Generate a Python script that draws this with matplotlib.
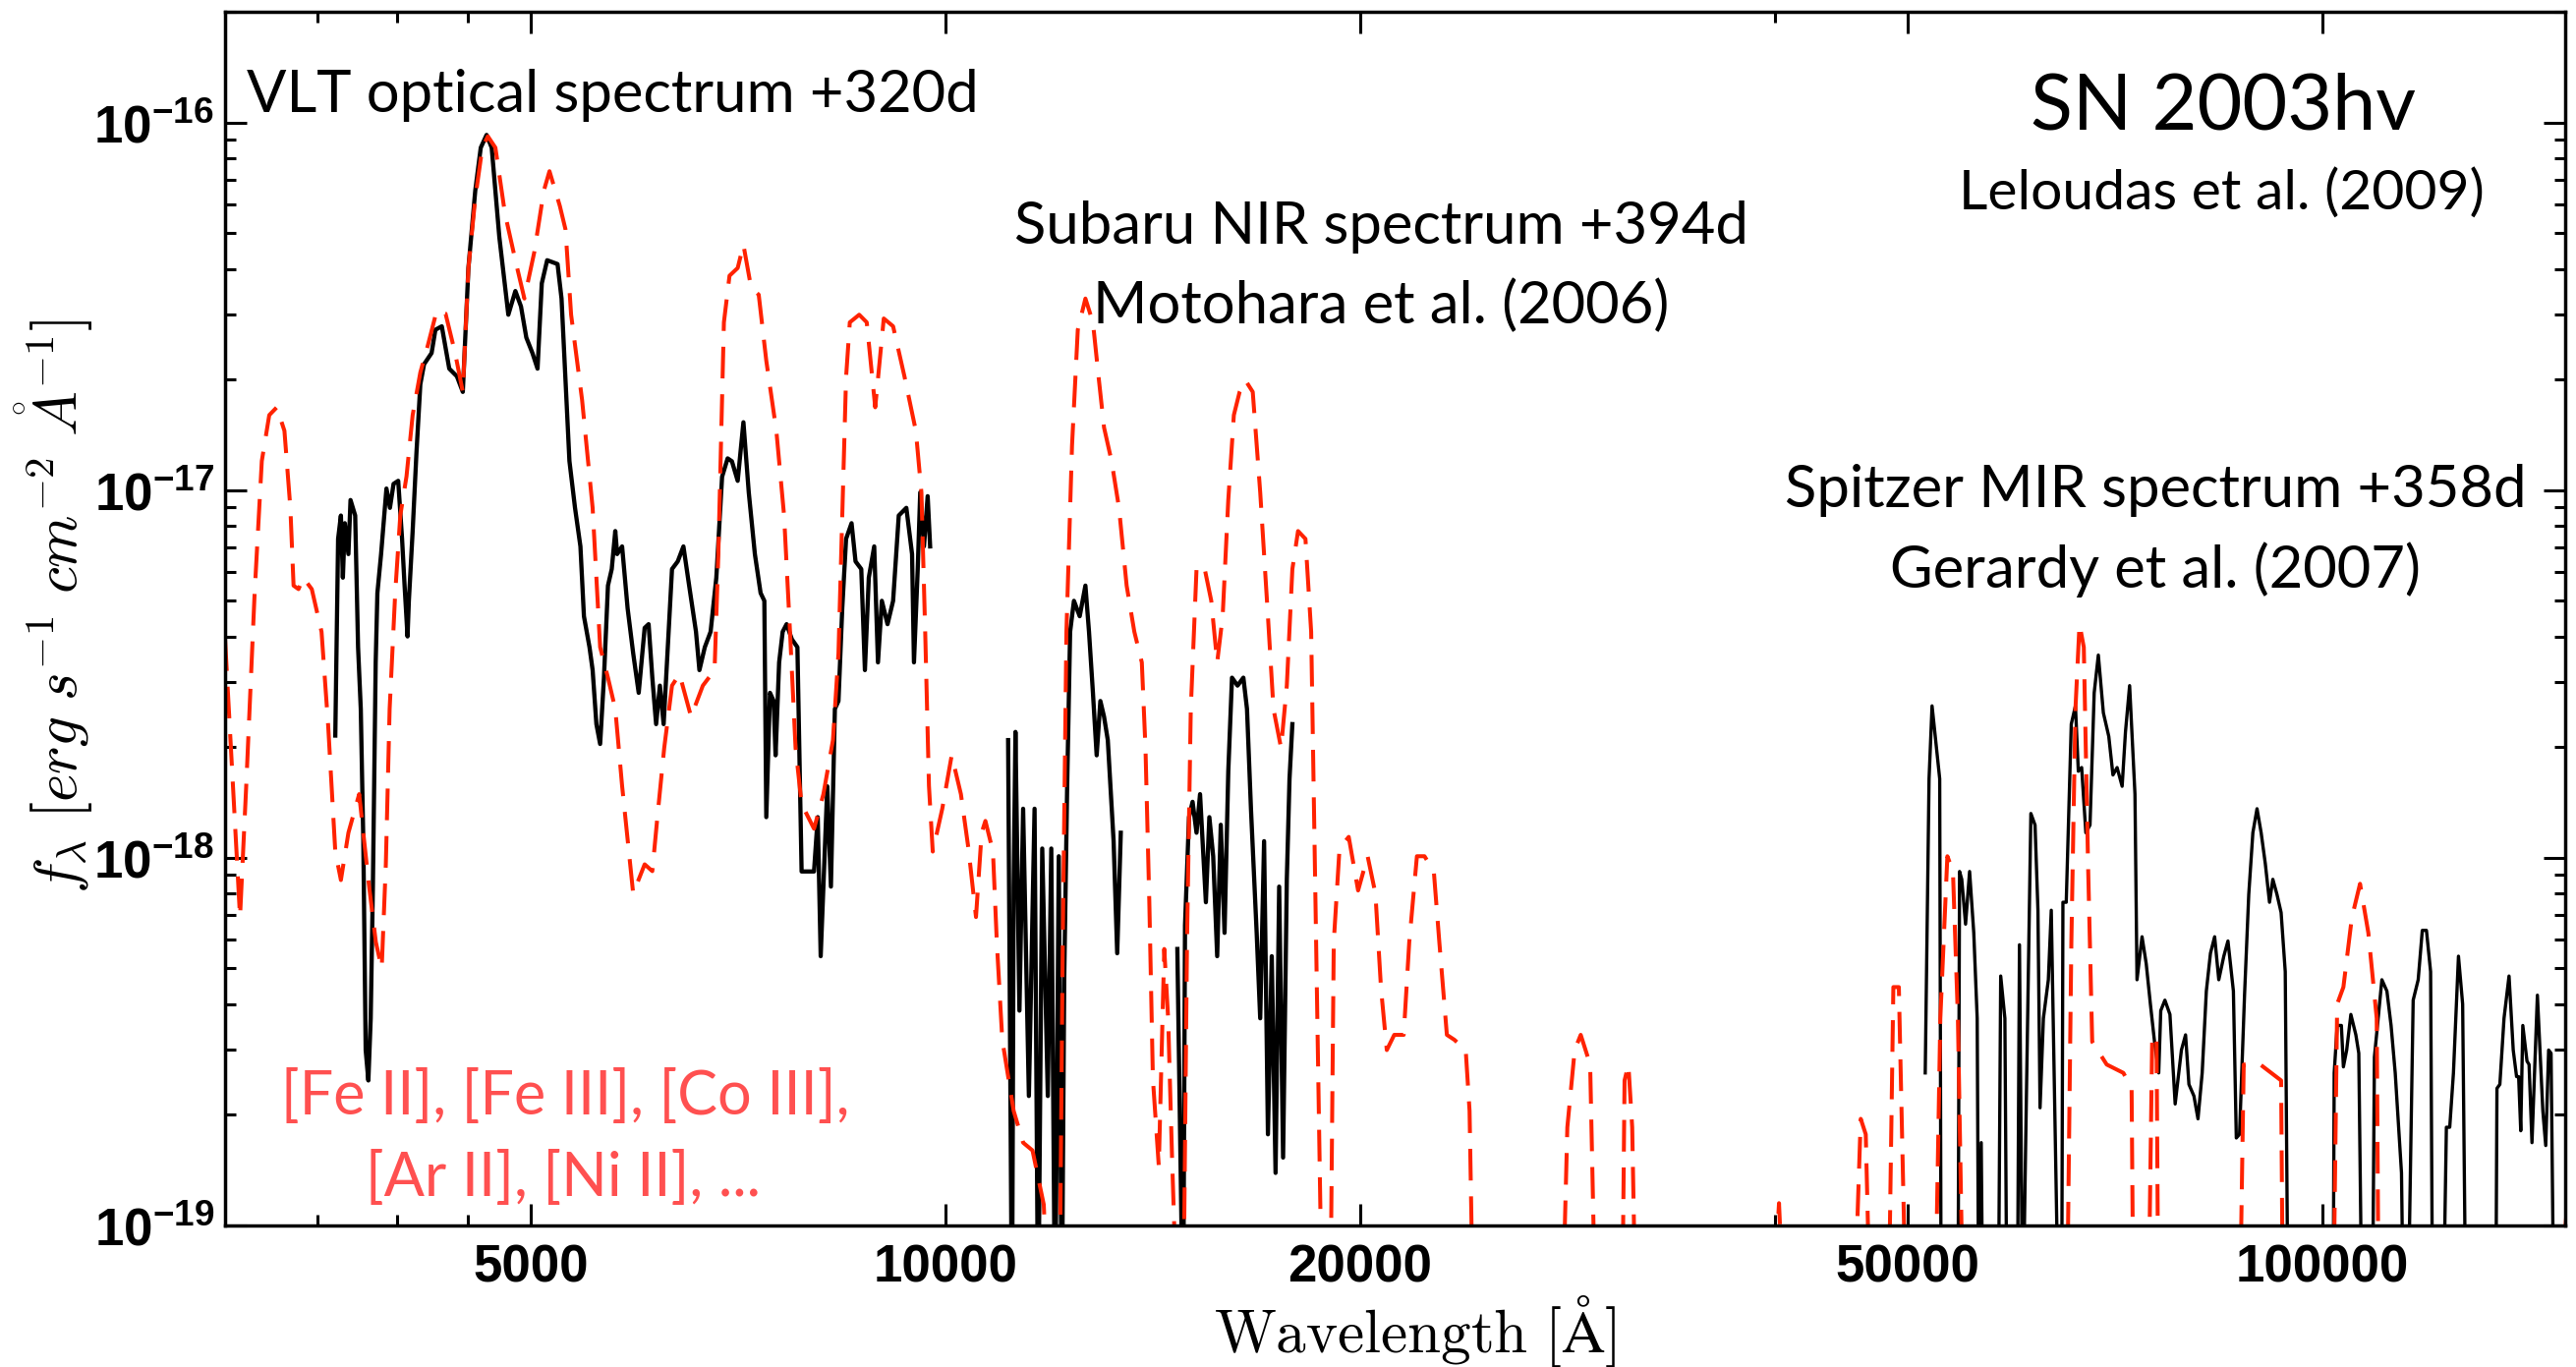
import numpy as np
import matplotlib
matplotlib.use('Agg')
import matplotlib.pyplot as plt
from matplotlib.ticker import FixedLocator, NullFormatter, FuncFormatter

plt.rcParams['mathtext.fontset'] = 'custom'
plt.rcParams['mathtext.bf'] = 'Liberation Sans:bold'
plt.rcParams['mathtext.rm'] = 'Liberation Sans:bold'

# model spectrum (red dashed), flux in 1e-18 erg/s/cm2/A
model_wave = [3000, 3076, 3108, 3152, 3190, 3230, 3271, 3313, 3346, 3364, 3392, 3419, 3468, 3525,
              3564, 3607, 3641, 3687, 3754, 3812, 3860, 3898, 3925, 3950, 3987, 4021, 4063, 4105,
              4158, 4211, 4274, 4337, 4407, 4464, 4506, 4558, 4612, 4655, 4714, 4790, 4874, 4948,
              5030, 5112, 5160, 5250, 5300, 5350, 5449, 5546, 5616, 5690, 5760, 5826, 5935, 6050,
              6128, 6180, 6251, 6333, 6413, 6538, 6668, 6800, 6843, 6907, 6972, 7068, 7136, 7228,
              7321, 7414, 7540, 7638, 7714, 7786, 7865, 8030, 8157, 8288, 8365, 8418, 8472, 8525,
              8660, 8770, 8895, 9023, 9165, 9340, 9520, 9609, 9670, 9731, 9793, 9950, 10108, 10265,
              10395, 10527, 10627, 10694, 10830, 10900, 11000, 11211, 11390, 11570, 11790, 11900,
              12100, 12170, 12245, 12360, 12480, 12640, 12800, 12920, 13040, 13205, 13370, 13542,
              13717, 13890, 13975, 14065, 14150, 14290, 14421, 14515, 14610, 14750, 14883, 14980,
              15075, 15220, 15410, 15600, 15755, 15900, 16050, 16200, 16357, 16515, 16720, 16930,
              17150, 17310, 17530, 17700, 17865, 18035, 18260, 18435, 18551, 18665, 18785, 19030,
              19145, 19330, 19630, 19940, 20260, 20525, 20720, 20920, 21182, 21520, 21720, 22000,
              22280, 22630, 22840, 23130, 23420, 23870, 24024, 24180, 28040, 28290, 28640, 28930,
              29390, 29670, 31000, 31130, 31330, 31530, 31730, 39800, 40300, 40700, 45650, 46200,
              46590, 46970, 48380, 48790, 49240, 49870, 52290, 52775, 53400, 53900, 54350, 54850,
              65200, 65700, 66150, 66600, 67080, 67560, 68030, 69700, 71670, 72660, 72900, 74700,
              75200, 75750, 76000, 87030, 87640, 90100, 93290, 93600, 101750, 102460, 103530,
              105000, 106450, 107940, 109460, 109840, 148000, 150500]
model_flux = [3.93, 0.69, 1.57, 5.25, 12.0, 16.0, 16.8, 14.5, 8.95, 5.5, 5.38, 5.78, 5.38, 4.12,
              2.3, 1.04, 0.87, 1.17, 1.49, 0.87, 0.59, 0.50, 0.96, 2.54, 5.25, 8.53, 10.9, 16.0,
              20.9, 24.8, 30.8, 30.2, 23.6, 18.5, 40.2, 62.2, 85.4, 91.7, 85.4, 56.5, 42.2, 33.2,
              44.3, 65.3, 73.7, 59.3, 51.2, 30.0, 17.6, 8.95, 3.74, 3.09, 2.54, 1.57, 0.80, 0.96,
              0.92, 1.29, 1.99, 2.94, 3.16, 2.42, 2.94, 3.24, 6.70, 28.6, 38.3, 40.2, 46.5, 35.6,
              34.0, 22.5, 14.5, 8.53, 4.12, 1.99, 1.40, 1.20, 1.49, 2.09, 3.6, 8.53, 20.3, 28.6,
              30.0, 28.6, 16.8, 29.3, 27.9, 20.4, 14.5, 9.86, 4.12, 1.57, 1.04, 1.36, 1.90, 1.49,
              1.06, 0.69, 1.17, 1.26, 1.04, 0.59, 0.32, 0.205, 0.168, 0.16, 0.114, 0.05,
              0.05, 0.59, 4.12, 13.2, 27.3, 33.2, 28.6, 20.4, 14.8, 12.0, 8.95, 5.5,
              4.12, 3.40, 1.99, 0.76, 0.25, 0.145, 0.565, 0.366, 0.153, 0.05, 0.05, 0.59,
              2.54, 6.1, 6.25, 5.0, 3.40, 4.54, 9.4, 16.0, 18.5, 19.9, 18.5, 9.86,
              4.54, 2.54, 1.99, 2.94, 6.1, 7.74, 7.37, 4.12, 0.96, 0.225, 0.05, 0.05,
              0.59, 1.06, 1.14, 0.815, 1.01, 0.80, 0.44, 0.30, 0.33, 0.33, 0.59, 1.01,
              1.01, 0.92, 0.59, 0.33, 0.32, 0.30, 0.205, 0.05, 0.05, 0.185, 0.30, 0.33,
              0.274, 0.05, 0.05, 0.248, 0.274, 0.185, 0.05, 0.05, 0.115, 0.05, 0.05, 0.195,
              0.177, 0.05, 0.05, 0.445, 0.445, 0.05, 0.05, 0.366, 1.01, 0.92, 0.366, 0.05,
              0.05, 0.59, 2.54, 4.32, 3.74, 0.96, 0.316, 0.274, 0.26, 0.236, 0.05, 0.05,
              0.316, 0.33, 0.05, 0.05, 0.274, 0.274, 0.248, 0.05, 0.05, 0.40, 0.445,
              0.687, 0.85, 0.625, 0.366, 0.05, 0.05, 0.114]

# VLT optical spectrum (black)
opt_wave = [3607, 3624, 3641, 3653, 3665, 3687, 3700, 3729, 3747, 3764, 3780, 3795, 3812, 3827,
            3841, 3859, 3870, 3894, 3929, 3952, 3976, 4007, 4033, 4050, 4070, 4079, 4105, 4131,
            4158, 4184, 4237, 4264, 4310, 4364, 4420, 4464, 4506, 4558, 4600, 4645, 4685, 4745,
            4817, 4874, 4920, 4964, 5015, 5058, 5094, 5140, 5230, 5265, 5335, 5385, 5434, 5466,
            5517, 5546, 5581, 5616, 5652, 5690, 5726, 5760, 5778, 5826, 5880, 5935, 5990, 6050,
            6090, 6128, 6167, 6206, 6245, 6271, 6333, 6394, 6455, 6517, 6592, 6630, 6690, 6755,
            6820, 6886, 6950, 7000, 7068, 7136, 7200, 7274, 7344, 7390, 7414, 7460, 7506, 7530,
            7575, 7620, 7670, 7738, 7810, 7865, 8030, 8080, 8120, 8210, 8260, 8315, 8365, 8418,
            8472, 8550, 8607, 8690, 8743, 8800, 8880, 8936, 8994, 9080, 9165, 9252, 9370, 9460,
            9490, 9550, 9590, 9650, 9710, 9750]
opt_flux = [2.15, 7.37, 8.53, 5.78, 8.13, 6.70, 9.4, 8.53, 3.74, 2.54, 1.11, 0.30, 0.248, 0.366,
            0.835, 3.40, 5.25, 6.70, 10.1, 8.95, 10.4, 10.6, 7.37, 5.5, 4.0, 5.0, 7.74, 12.6,
            19.4, 22.0, 23.6, 27.3, 27.9, 21.4, 20.4, 18.5, 40.2, 65.3, 85.4, 92.5, 85.4, 48.8,
            30.0, 34.8, 31.6, 26.0, 23.6, 21.4, 36.5, 42.2, 41.2, 33.2, 12.0, 8.95, 7.03, 4.54,
            3.74, 3.24, 2.31, 2.04, 3.09, 5.5, 6.1, 7.74, 6.70, 7.03, 4.77, 3.60, 2.81, 4.22,
            4.32, 3.09, 2.31, 2.94, 2.31, 3.09, 6.1, 6.4, 7.03, 5.5, 4.12, 3.24, 3.74, 4.12,
            5.78, 10.87, 12.2, 11.98, 10.6, 15.3, 9.86, 6.70, 5.25, 5.0, 1.29, 2.81, 2.67, 1.90,
            3.40, 4.12, 4.32, 3.93, 3.74, 0.918, 0.918, 1.29, 0.54, 1.565, 0.835, 2.54, 2.67, 4.77,
            7.37, 8.13, 6.4, 6.1, 3.24, 5.78, 7.03, 3.40, 5.0, 4.32, 5.0, 8.53, 8.95, 6.70,
            3.40, 6.1, 9.86, 7.03, 9.63, 7.03]

# Subaru NIR spectrum, J and H parts (black)
nirj_wave = [11108, 11180, 11211, 11245, 11320, 11390, 11500, 11610, 11680, 11760, 11870, 11939,
             12015, 12090, 12150, 12200, 12260, 12321, 12400, 12520, 12640, 12716, 12800, 12880,
             12960, 13040, 13122, 13250, 13330, 13410]
nirj_flux = [2.09, 0.05, 0.835, 2.20, 0.384, 1.36, 0.225, 1.36, 0.05, 1.06, 0.225, 1.06,
             0.05, 1.01, 0.05, 0.466, 1.565, 4.12, 5.0, 4.54, 5.5, 4.12, 2.81, 1.90,
             2.67, 2.42, 2.09, 1.11, 0.55, 1.17]
nirh_wave = [14740, 14883, 14930, 15030, 15120, 15220, 15310, 15460, 15550, 15650, 15755, 15850,
             15950, 16050, 16150, 16300, 16460, 16560, 16670, 16830, 16930, 17040, 17150, 17260,
             17370, 17475, 17590, 17700, 17780, 17865]
nirh_flux = [0.565, 0.05, 0.655, 1.29, 1.42, 1.17, 1.49, 0.757, 1.29, 1.01, 0.54, 1.23,
             0.625, 1.72, 3.09, 2.94, 3.09, 2.54, 1.36, 0.625, 0.366, 1.11, 0.177, 0.54,
             0.139, 0.835, 0.153, 0.874, 1.64, 2.31]

# Spitzer MIR spectrum (black)
mir_wave = [51460, 51790, 52050, 52720, 52850, 54350, 54500, 54700, 55050, 55422, 55810, 56130,
            56280, 56510, 56670, 58140, 58380, 58790, 59000, 60020, 60240, 60570, 60870, 61400,
            61830, 62130, 62350, 62700, 63220, 63530, 63880, 64330, 64640, 64780, 65140, 65690,
            66150, 66470, 66840, 67310, 67780, 68256, 68730, 69310, 69940, 70430, 70920, 71520,
            71920, 72420, 73070, 73320, 73940, 74460, 74980, 75500, 76030, 76290, 76820, 77470,
            78150, 78970, 79520, 79970, 80640, 81190, 81760, 82330, 82900, 83480, 84062, 84770,
            85360, 86140, 86560, 87030, 87760, 88380, 88990, 89610, 90230, 90860, 91500, 92010,
            92650, 93290, 93940, 94400, 101750, 101950, 102460, 103180, 103530, 104100, 104830,
            105710, 106230, 106820, 108660, 109040, 109800, 110410, 111340, 112120, 112900,
            114090, 114490, 115290, 116340, 117320, 118130, 118950, 119780, 120200, 122300,
            122980, 123670, 124440, 125490, 126370, 127070, 133550, 133830, 134480, 135420,
            136560, 137520, 138290, 138770, 139260, 139740, 140720, 141210, 141900, 143190,
            144500, 145200, 145910, 146500, 147230]
mir_flux = [0.26, 1.64, 2.59, 1.64, 0.05, 0.05, 0.918, 0.874, 0.66, 0.918, 0.625, 0.366,
            0.05, 0.168, 0.05, 0.05, 0.477, 0.366, 0.05, 0.05, 0.58, 0.05, 0.168, 1.32,
            1.228, 0.72, 0.209, 0.366, 0.466, 0.72, 0.225, 0.05, 0.05, 0.757, 0.757, 2.31,
            2.59, 1.72, 1.76, 1.17, 1.228, 2.81, 3.56, 2.48, 2.14, 1.68, 1.76, 1.565,
            2.20, 2.94, 1.49, 0.466, 0.61, 0.515, 0.40, 0.316, 0.26, 0.384, 0.41, 0.375,
            0.214, 0.30, 0.33, 0.242, 0.225, 0.195, 0.26, 0.434, 0.55, 0.61, 0.466, 0.54,
            0.594, 0.434, 0.173, 0.177, 0.423, 0.795, 1.17, 1.36, 1.17, 0.964, 0.757, 0.874,
            0.795, 0.71, 0.49, 0.05, 0.05, 0.26, 0.35, 0.35, 0.27, 0.30, 0.375,
            0.33, 0.294, 0.05, 0.05, 0.287, 0.375, 0.466, 0.434, 0.35, 0.26,
            0.139, 0.05, 0.05, 0.41, 0.466, 0.635, 0.635, 0.49, 0.05, 0.05,
            0.185, 0.185, 0.26, 0.54, 0.40, 0.05, 0.05, 0.236, 0.242, 0.366,
            0.477, 0.30, 0.254, 0.254, 0.181, 0.35, 0.28, 0.274, 0.168, 0.423,
            0.205, 0.165, 0.30, 0.294, 0.05]

major_x = [5000, 10000, 20000, 50000, 100000]
minor_x = [3500, 4000, 4500, 40000]
major_y = [1e-19, 1e-18, 1e-17, 1e-16]
minor_y = [m * d for d in [1e-19, 1e-18, 1e-17] for m in range(2, 10)] + [2e-16]

W, H = 2621, 1391
fig = plt.figure(figsize=(W / 100, H / 100), dpi=100)
ax = fig.add_axes([229 / W, 1 - 1247 / H, (2610 - 229) / W, (1247 - 12) / H])

ax.plot(opt_wave, np.array(opt_flux) * 1e-18, color='black', lw=3.1)
ax.plot(nirj_wave, np.array(nirj_flux) * 1e-18, color='black', lw=3.1)
ax.plot(nirh_wave, np.array(nirh_flux) * 1e-18, color='black', lw=3.1)
ax.plot(mir_wave, np.array(mir_flux) * 1e-18, color='black', lw=2.4)
ax.plot(model_wave, np.array(model_flux) * 1e-18, color='#ff2200', lw=2.9, dashes=(8, 4))

ax.set_xscale('log')
ax.set_yscale('log')
ax.set_xlim(3000, 150000)
ax.set_ylim(1e-19, 2e-16)

ax.set_xticks(major_x, labels=[str(v) for v in major_x])
ax.set_xticks(minor_x, minor=True)
ax.xaxis.set_minor_formatter(NullFormatter())
ax.yaxis.set_major_locator(FixedLocator(major_y))
ax.yaxis.set_minor_locator(FixedLocator(minor_y))
ax.yaxis.set_minor_formatter(NullFormatter())
ax.yaxis.set_major_formatter(FuncFormatter(lambda v, p: r'$\mathbf{10^{%d}}$' % round(np.log10(v))))

ax.tick_params(which='both', direction='in', top=True, right=True, width=2.2)
ax.tick_params(which='major', length=16)
ax.tick_params(which='minor', length=8)
ax.tick_params(axis='x', labelsize=38, pad=13)
ax.tick_params(axis='y', labelsize=38, pad=8)
for lab in ax.get_xticklabels():
    lab.set_fontfamily('Liberation Sans')
    lab.set_fontweight('bold')
for sp in ax.spines.values():
    sp.set_linewidth(2.5)

fig.text(55 / W, 1 - 617 / H, r'$f_\lambda\ [erg\ s^{-1}\ cm^{-2}\ \mathring{A}^{-1}]$',
         rotation=90, ha='center', va='center', fontsize=44, math_fontfamily='cm')
fig.text(1440 / W, 1 - 1376 / H, r'$\mathrm{Wavelength\ [\AA]}$',
         ha='center', va='baseline', fontsize=44, math_fontfamily='cm')

font = 'Lato'
fig.text(623 / W, 1 - 114 / H, 'VLT optical spectrum +320d', ha='center', va='baseline', fontsize=43, family=font)
fig.text(2262 / W, 1 - 132 / H, 'SN 2003hv', ha='center', va='baseline', fontsize=57, family=font)
fig.text(2260 / W, 1 - 213 / H, 'Leloudas et al. (2009)', ha='center', va='baseline', fontsize=41, family=font)
fig.text(1406 / W, 1 - 248 / H, 'Subaru NIR spectrum +394d', ha='center', va='baseline', fontsize=43, family=font)
fig.text(1405 / W, 1 - 329 / H, 'Motohara et al. (2006)', ha='center', va='baseline', fontsize=43, family=font)
fig.text(2193 / W, 1 - 516 / H, 'Spitzer MIR spectrum +358d', ha='center', va='baseline', fontsize=43, family=font)
fig.text(2193 / W, 1 - 598 / H, 'Gerardy et al. (2007)', ha='center', va='baseline', fontsize=43, family=font)
fig.text(575 / W, 1 - 1134 / H, '[Fe II], [Fe III], [Co III],', ha='center', va='baseline', fontsize=44, family=font, color='#ff5050')
fig.text(573 / W, 1 - 1217 / H, '[Ar II], [Ni II], ...', ha='center', va='baseline', fontsize=44, family=font, color='#ff5050')

fig.savefig('out.png', dpi=100)
